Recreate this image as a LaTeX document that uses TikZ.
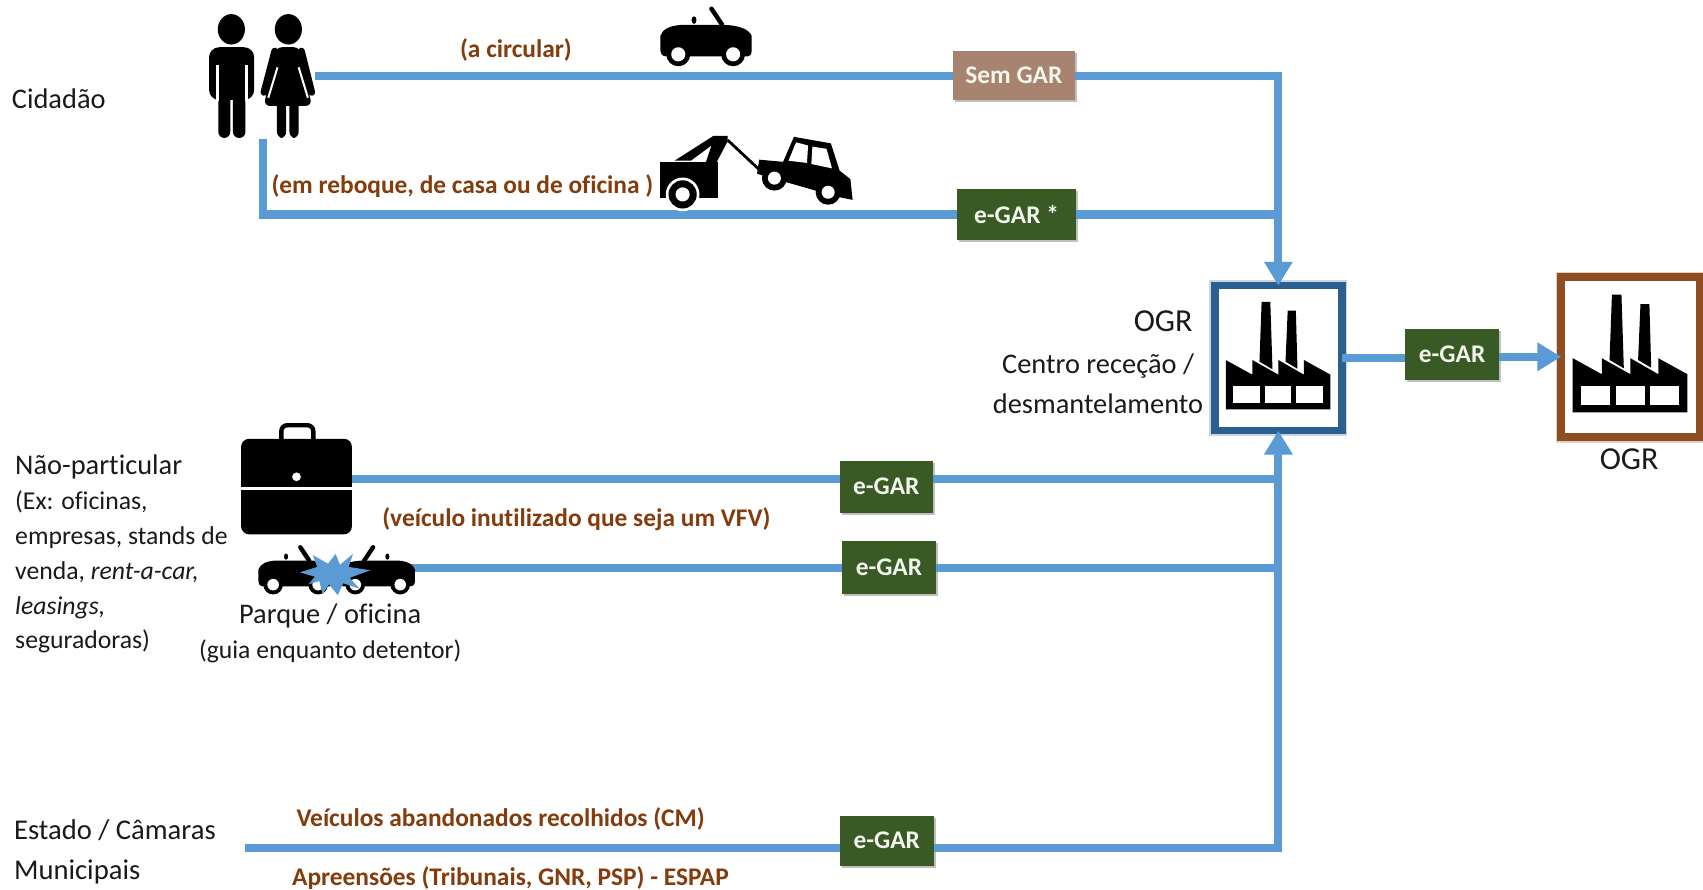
\documentclass[tikz,border=0pt]{standalone}
\usepackage{fontspec}
\setmainfont[Ligatures=NoCommon]{Carlito}
\usetikzlibrary{arrows.meta,shadows,calc}
\definecolor{flow}{HTML}{5B9BD5}
\definecolor{egreen}{HTML}{3A5A25}
\definecolor{semgar}{HTML}{A8836F}
\definecolor{ogrblue}{HTML}{2A6090}
\definecolor{ogrbrown}{HTML}{8E4E22}
\definecolor{note}{HTML}{843C0C}
\definecolor{ink}{HTML}{1A1A1A}
\definecolor{tagtext}{HTML}{F2F6EC}
\newcommand{\UU}{0.54305pt}
\tikzset{
  flowline/.style={draw=flow,line width=7.4*\UU,line cap=butt,line join=miter},
  flowarrow/.style={flowline,-{Triangle[width=25*\UU,length=22*\UU]}},
  tag/.style n args={3}{draw=none,fill=#3,text=tagtext,inner sep=0pt,outer sep=0pt,
     minimum width=#1*\UU,minimum height=#2*\UU,font=\fontsize{12.7}{14}\selectfont\bfseries,
     drop shadow={shadow xshift=1pt,shadow yshift=-1pt,opacity=.25,fill=black}},
  ogrbox/.style n args={3}{draw=#3,fill=white,line width=7*\UU,inner sep=0pt,outer sep=0pt,
     minimum width=#1*\UU,minimum height=#2*\UU},
  label/.style={inner sep=0pt,outer sep=0pt,text=ink,font=\fontsize{14.2}{17}\selectfont},
  notetext/.style={inner sep=0pt,outer sep=0pt,text=note,font=\fontsize{12.7}{15}\selectfont\bfseries},
  factory/.pic={
    \fill[black] (31,-44) -- (33,-99) -- (41,-99) -- (43,-37) -- cycle;
    \fill[black] (55,-44) -- (57,-91) -- (64.5,-91) -- (66,-37.5) -- cycle;
    \fill[black] (0,0) -- (0,-45.5) -- (24.5,-32) -- (24.5,-45.5) -- (48.5,-32) -- (48.5,-45.5) -- (72,-32) -- (72,-45.5) -- (96.4,-32) -- (96.4,0) -- cycle;
    \fill[white] (7,-22) rectangle (31.5,-6);
    \fill[white] (36,-22) rectangle (60.5,-6);
    \fill[white] (65,-22) rectangle (89.5,-6);
  },
  roadster/.pic={
    \fill[black] (-42,10) -- (-42,-2) .. controls (-40,-8) and (-34,-11) .. (-24,-12)
       -- (-14,-12) -- (16,-12) .. controls (30,-12) and (40,-8) .. (42,-2) -- (42,12)
       .. controls (42,16) and (40,17) .. (36,17) -- (-36,17) .. controls (-41,17) and (-42,14) .. (-42,10) -- cycle;
    \fill[black] (-11,-13) .. controls (-14,-13) and (-14,-20) .. (-11,-20) .. controls (-8,-20) and (-8,-13) .. (-11,-13) -- cycle;
    \draw[black,line width=2.2,line cap=round] (5,-27) -- (15,-12);
    \fill[black] (-25.5,15) circle (11);
    \fill[white] (-25.5,15) circle (6.5);
    \fill[black] (25,15) circle (11);
    \fill[white] (25,15) circle (6.5);
  },
}
\begin{document}
\begin{tikzpicture}[x=0.54305pt,y=-0.54305pt]
\useasboundingbox (0,0) rectangle (1568,819.4);
\fill[white] (0,0) rectangle (1568,819.4);

% free ends of the connectors
\coordinate (startA) at (290,70);
\coordinate (startB) at (242,128);
\coordinate (startC) at (324,441);
\coordinate (startD) at (378,523);
\coordinate (startE) at (226,781);

% receiving boxes
\draw[ogrblue!50,line width=10*\UU,opacity=.5] (1118.5,263) rectangle (1235.5,396.5);
\draw[ogrbrown!50,line width=10*\UU,opacity=.5] (1437.5,255) rectangle (1565,402.5);
\node[ogrbox={117}{133.5}{ogrblue}] (ogrA) at (1177,329.75) {};
\node[ogrbox={127.5}{147.5}{ogrbrown}] (ogrB) at (1501.25,328.75) {};
\pic at (1128.6,377) {factory};
\pic[scale=1.095] at (1448,379.6) {factory};

% tags
\node[tag={113}{45}{semgar}] (tagA) at (933.5,69.5) {Sem GAR};
\node[tag={110}{47}{egreen}] (tagB) at (936,197.5) {e-GAR *};
\node[tag={86}{48}{egreen}] (tagC) at (816,448) {e-GAR};
\node[tag={87}{49}{egreen}] (tagD) at (818.5,522.5) {e-GAR};
\node[tag={87}{46}{egreen}] (tagE) at (816.5,774) {e-GAR};
\node[tag={86}{47}{egreen}] (tagF) at (1337,326.5) {e-GAR};

% connectors
\coordinate (joinA) at (ogrA.north |- tagB.center);
\coordinate (cornerA) at (ogrA.north |- startA);
\coordinate (cornerE) at (ogrA.south |- startE);
\draw[flowline] (startA) -- (tagA.west |- startA);
\draw[flowarrow] (tagA.east |- startA) -- (cornerA) -- (ogrA.north);
\draw[flowline] (startB) -- (startB |- tagB.center) -- (tagB.west);
\draw[flowline] (tagB.east) -- (joinA);
\draw[flowline] (startC) -- (tagC.west |- startC);
\draw[flowline] (tagC.east |- startC) -- (ogrA.south |- startC);
\draw[flowline] (startD) -- (tagD.west |- startD);
\draw[flowline] (tagD.east |- startD) -- (ogrA.south |- startD);
\draw[flowline] (startE) -- (tagE.west |- startE);
\draw[flowarrow] (tagE.east |- startE) -- (cornerE) -- (ogrA.south);
\draw[flowline] (ogrA.east |- 0,330) -- (tagF.west |- 0,330);
\draw[flowarrow] (tagF.east |- 0,328.5) -- (ogrB.west |- 0,328.5);

% man
\fill[black] (213,27) ellipse (12.5 and 14);
\fill[black,rounded corners=5] (192.5,43.5) rectangle (234,92);
\fill[black,rounded corners=3] (201,80) rectangle (212,127);
\fill[black,rounded corners=3] (214.5,80) rectangle (226,127);
\draw[white,line width=1.4] (200,60) -- (200,93);
\draw[white,line width=1.4] (226.8,60) -- (226.8,93);

% woman
\fill[black] (265.5,27) ellipse (12.5 and 14);
\fill[black,rounded corners=3] (254,43.5) -- (276,43.5) -- (287,97.5) -- (243,97.5) -- cycle;
\draw[black,line width=3.4,line cap=round] (253,47) -- (243,85);
\draw[black,line width=3.4,line cap=round] (277.5,47) -- (287,85);
\draw[white,line width=1] (255.5,62) -- (247,90);
\draw[white,line width=1] (275,62) -- (283.5,90);
\fill[black,rounded corners=3] (255,92) rectangle (263.5,127);
\fill[black,rounded corners=3] (266.5,92) rectangle (275,127);

% convertible
\pic at (650,35) {roadster};

% tow truck and towed car
\fill[black] (608,149) rectangle (661.5,182);
\fill[black] (621,148) -- (657,125) -- (670,125) -- (670,130) -- (660,149) -- (650,149) -- (655,134) -- (636,148) -- cycle;
\fill[white] (628.5,179) circle (15.5);
\fill[black] (628.5,179) circle (13);
\fill[white] (628.5,179) circle (6.5);
\draw[black,line width=1.4] (670,129) -- (701,158);
\fill[black] (697,160) -- (699,147) -- (721,149) -- (731,126) -- (765,132) -- (773,157) -- (783,165) -- (785,184) -- (770,181) -- cycle;
\fill[white] (726,148) -- (733,131) -- (744,134) -- (743,150) -- cycle;
\fill[white] (747,151) -- (748,135) -- (761,137) -- (766,155) -- cycle;
\fill[black] (713,164) circle (11.5);
\fill[white] (713,164) circle (6);
\fill[black] (762.5,177) circle (11.5);
\fill[white] (762.5,177) circle (6);

% briefcase
\fill[black,rounded corners=4] (222,404) rectangle (324,492);
\draw[black,line width=2.2,rounded corners=3] (259,405) -- (259,391.5) -- (288.5,391.5) -- (288.5,405);
\fill[white] (222,448) rectangle (324,451.5);
\fill[white] (273,439) circle (4);

% collision
\pic[scale=.82] at (272.4,526) {roadster};
\pic[xscale=-.82,yscale=.82] at (347.6,526) {roadster};
\fill[flow] (276,527) -- (292,522) -- (288,511) -- (302,519) -- (309,510) -- (313,520) -- (325,510) -- (321,522) -- (341,525) -- (322,532) -- (331,542) -- (316,537) -- (311,548) -- (303,538) -- (297,547) -- (294,535) -- (284,538) -- (290,531) -- cycle;

% labels
\node[label,anchor=base west] (cidadao) at (11,100) {Cidadão};
\node[label,anchor=north west,align=left,font=\fontsize{12.85}{17.4}\selectfont] (naopart) at (14,419) {{\fontsize{14.2}{17.4}\selectfont Não-particular}\\(Ex: oficinas,\\empresas, stands de\\venda, \textit{rent-a-car,}\\\textit{leasings,}\\seguradoras)};
\node[label,anchor=base] (parque) at (304,574) {Parque / oficina};
\node[label,anchor=base,font=\fontsize{12.8}{15}\selectfont] (guia) at (304,606) {(guia enquanto detentor)};
\node[label,anchor=north west,align=left,font=\fontsize{14.3}{20}\selectfont] (estado) at (13,755) {Estado / Câmaras\\Municipais};
\node[label,anchor=base east,font=\fontsize{16}{18}\selectfont] (ogrtxt) at (1098,305) {OGR};
\node[label,anchor=north,align=center,font=\fontsize{14.2}{20}\selectfont] (centro) at (1011,326) {Centro receção /\\desmantelamento};
\node[label,anchor=base,font=\fontsize{16}{18}\selectfont] (ogrtxtB) at (1500,432) {OGR};

\node[notetext,anchor=base] (n1) at (475,53) {(a circular)};
\node[notetext,anchor=base west] (n2) at (250,178) {(em reboque, de casa ou de oficina )};
\node[notetext,anchor=base west] (n3) at (352,485) {(veículo inutilizado que seja um VFV)};
\node[notetext,anchor=base west] (n4) at (273,761) {Veículos abandonados recolhidos (CM)};
\node[notetext,anchor=base west] (n5) at (269,815) {Apreensões (Tribunais, GNR, PSP) - ESPAP};
\end{tikzpicture}
\end{document}
